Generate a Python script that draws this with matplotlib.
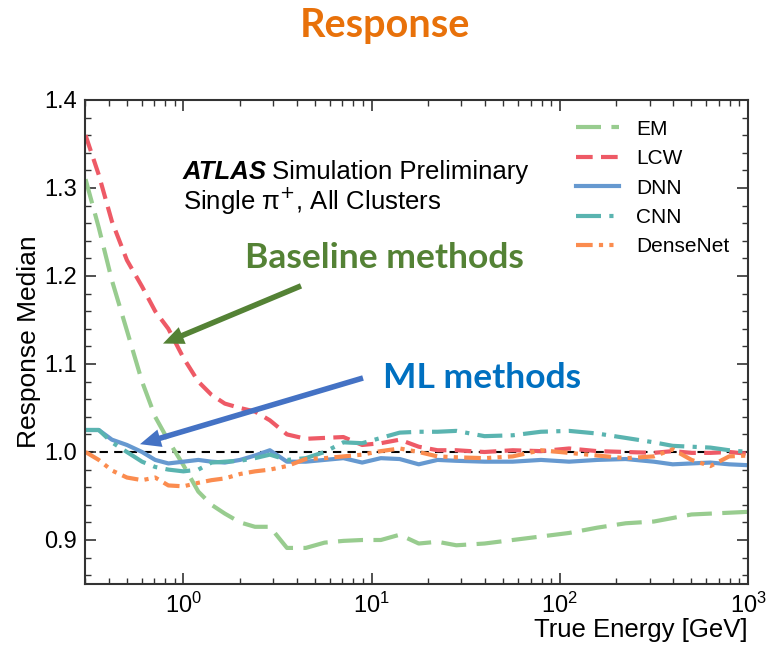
import matplotlib
matplotlib.use("Agg")
import matplotlib.pyplot as plt
from matplotlib.ticker import MultipleLocator, LogLocator, NullFormatter

energy = [0.302, 0.355, 0.417, 0.501, 0.603, 0.708, 0.832, 1.0, 1.20, 1.41, 1.66, 2.0,
          2.40, 2.88, 3.55, 4.47, 5.62, 7.08, 8.91, 11.2, 14.1, 17.8, 22.4, 28.2,
          39.8, 56.2, 79.4, 112, 158, 224, 316, 398, 501, 631, 794, 1000]

em = [1.31, 1.255, 1.195, 1.138, 1.08, 1.04, 1.013, 0.985, 0.955, 0.94, 0.93, 0.92,
      0.915, 0.915, 0.891, 0.891, 0.897, 0.899, 0.900, 0.900, 0.906, 0.896, 0.898, 0.894,
      0.896, 0.900, 0.904, 0.908, 0.914, 0.919, 0.921, 0.925, 0.929, 0.930, 0.931, 0.932]

lcw = [1.36, 1.315, 1.262, 1.218, 1.188, 1.16, 1.14, 1.107, 1.08, 1.065, 1.055, 1.05,
       1.046, 1.036, 1.02, 1.015, 1.016, 1.017, 1.008, 1.010, 1.014, 1.006, 1.002, 1.002,
       1.000, 1.002, 1.001, 1.004, 1.001, 1.000, 0.999, 1.001, 0.999, 0.999, 1.000, 0.998]

dnn = [1.025, 1.025, 1.014, 1.008, 1.000, 0.991, 0.987, 0.989, 0.991, 0.989, 0.988, 0.991,
       0.996, 1.002, 0.989, 0.989, 0.991, 0.993, 0.988, 0.993, 0.992, 0.986, 0.991, 0.990,
       0.989, 0.989, 0.991, 0.989, 0.991, 0.992, 0.989, 0.986, 0.987, 0.988, 0.986, 0.985]

cnn = [1.025, 1.025, 1.011, 1.000, 0.989, 0.983, 0.980, 0.978, 0.980, 0.988, 0.989, 0.990,
       0.993, 0.997, 0.991, 0.993, 1.000, 1.011, 1.010, 1.016, 1.022, 1.023, 1.023, 1.024,
       1.018, 1.019, 1.023, 1.024, 1.021, 1.016, 1.011, 1.007, 1.006, 1.005, 1.002, 1.000]

densenet = [1.000, 0.991, 0.979, 0.971, 0.968, 0.971, 0.962, 0.961, 0.965, 0.968, 0.970, 0.975,
            0.978, 0.980, 0.984, 0.992, 0.993, 0.995, 0.997, 1.001, 1.004, 1.000, 0.995, 0.994,
            0.993, 0.995, 1.002, 0.999, 0.996, 0.993, 0.995, 1.003, 0.991, 0.984, 0.995, 0.996]

labels = ["EM", "LCW", "DNN", "CNN", "DenseNet"]
colors = ["#98cc8f", "#ee5a66", "#6699d0", "#5ab4b0", "#fb8c4f"]

W, H = 769, 645
fig = plt.figure(figsize=(W / 100, H / 100), dpi=100)
ax = fig.add_axes([85 / W, 1 - 584 / H, (748 - 85) / W, (584 - 100) / H])

ax.axhline(1.0, color="black", lw=1.5, ls=(0, (4, 3)), zorder=1)
ax.plot(energy, em, color=colors[0], lw=3, ls=(0, (6, 2.5)), label=labels[0])
ax.plot(energy, lcw, color=colors[1], lw=3, ls=(0, (4, 2)), label=labels[1])
ax.plot(energy, dnn, color=colors[2], lw=3, ls="-", label=labels[2])
ax.plot(energy, cnn, color=colors[3], lw=3, ls=(0, (6, 2, 1, 2)), label=labels[3])
ax.plot(energy, densenet, color=colors[4], lw=3, ls=(0, (4, 1.5, 1, 1.5, 1, 1.5)), label=labels[4])

ax.set_xscale("log")
ax.set_xlim(0.3, 1000)
ax.set_ylim(0.85, 1.4)
ax.yaxis.set_major_locator(MultipleLocator(0.1))
ax.yaxis.set_minor_locator(MultipleLocator(0.02))
ax.xaxis.set_major_locator(LogLocator(base=10, numticks=10))
ax.xaxis.set_minor_locator(LogLocator(base=10, subs=range(2, 10), numticks=100))
ax.xaxis.set_minor_formatter(NullFormatter())

tickfont = "Liberation Sans"
ax.tick_params(which="both", direction="in", top=True, right=True, color="#333333")
ax.tick_params(which="major", length=8, width=1.2, labelsize=17, pad=6)
ax.tick_params(which="minor", length=4, width=1.0)
for lab in ax.get_xticklabels() + ax.get_yticklabels():
    lab.set_fontfamily(tickfont)
for sp in ax.spines.values():
    sp.set_linewidth(1.5)
    sp.set_color("#333333")

ax.set_ylabel("Response Median", fontsize=19, family=tickfont, labelpad=2)
ax.set_xlabel("True Energy [GeV]", fontsize=18.5, family=tickfont, loc="right", labelpad=0)

leg = ax.legend(loc="upper right", bbox_to_anchor=(1.0, 0.998), frameon=False,
                prop={"family": tickfont, "size": 15}, handlelength=2.1,
                labelspacing=0.5, handletextpad=0.8)

def fx(px):
    return px / W

def fy(py):
    return 1 - py / H

fig.text(fx(385), fy(26), "Response", color="#e8710a", fontsize=28.5, fontweight="bold",
         family="Lato", ha="center", va="center")
t1 = fig.text(fx(183), fy(172), "ATLAS", fontsize=18.5, fontweight="bold", style="italic",
              family=tickfont, ha="left", va="center")
fig.canvas.draw()
bb = t1.get_window_extent()
fig.text(bb.x1 / W + 5 / W, fy(172), "Simulation Preliminary", fontsize=18.5,
         family=tickfont, ha="left", va="center")
fig.text(fx(183), fy(201), "Single \u03c0$^{+}$, All Clusters", fontsize=18.5,
         family=tickfont, ha="left", va="center")
fig.text(fx(384), fy(258), "Baseline methods", color="#548235", fontsize=25.5,
         fontweight="bold", family="Lato", ha="center", va="center")
fig.text(fx(482), fy(378), "ML methods", color="#0070c0", fontsize=25.5,
         fontweight="bold", family="Lato", ha="center", va="center")

style = "simple,head_length=1.5,head_width=1.3,tail_width=0.4"
ax.annotate("", xy=(0.755, 1.122), xytext=(4.35, 1.19), xycoords="data",
            arrowprops=dict(arrowstyle=style, mutation_scale=10, color="#548235", lw=0))
ax.annotate("", xy=(0.569, 1.008), xytext=(9.3, 1.085), xycoords="data",
            arrowprops=dict(arrowstyle=style, mutation_scale=10, color="#4472c4", lw=0))

fig.savefig("out.png", dpi=100)
